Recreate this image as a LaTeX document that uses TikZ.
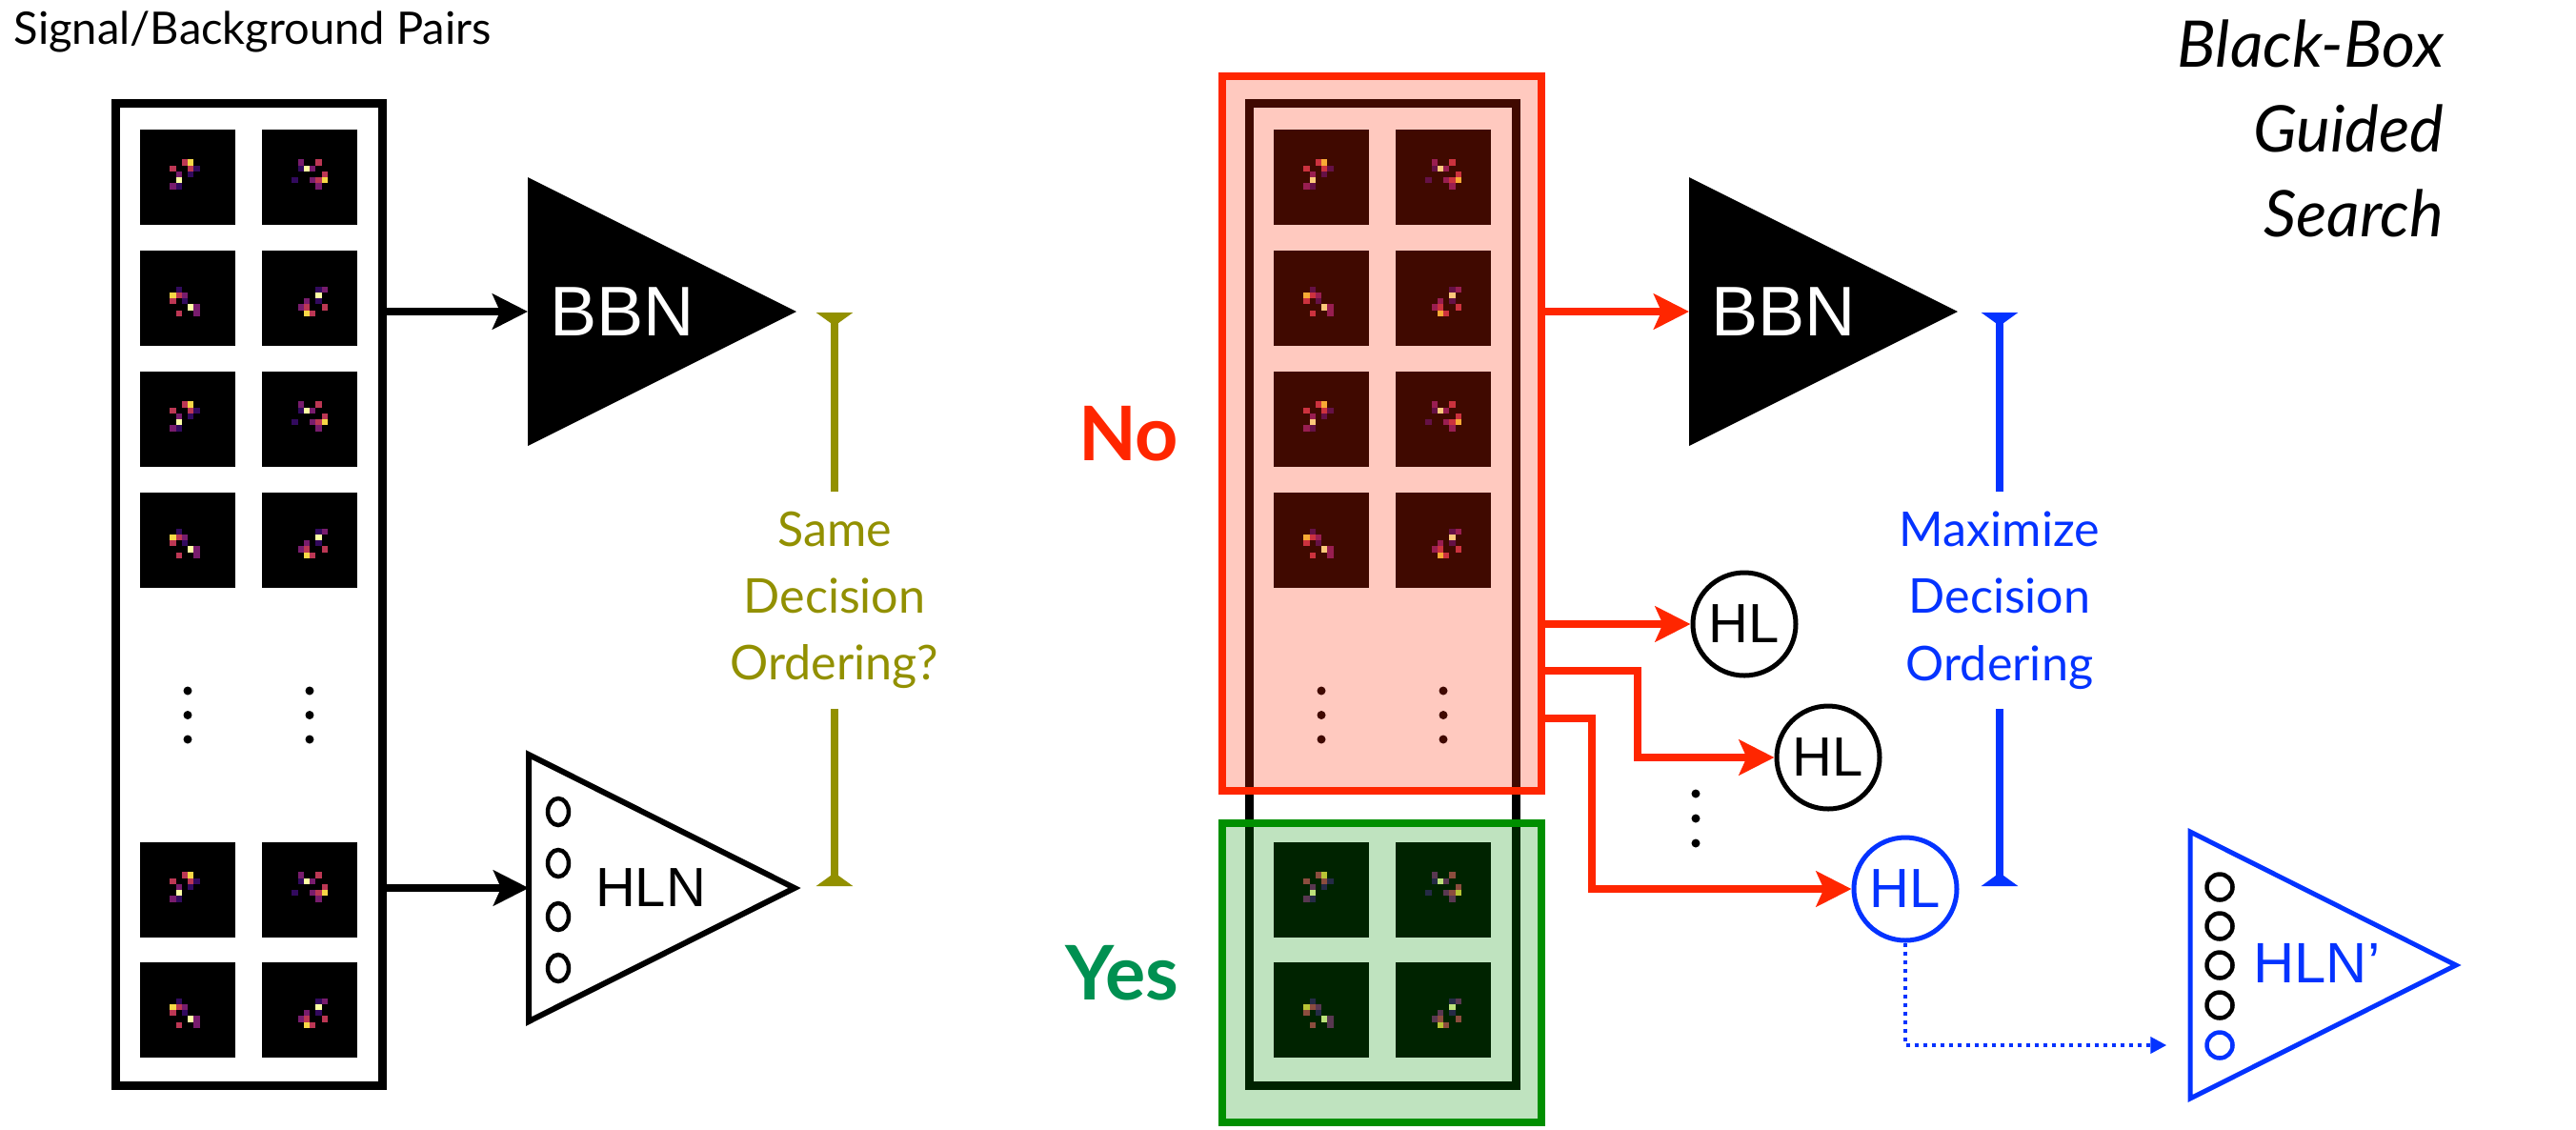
\documentclass[tikz,border=0pt]{standalone}
\usepackage{fontspec}
\setmainfont{Lato}
\newfontfamily\netfont{Liberation Sans}
\usepackage{tikz}
\usetikzlibrary{arrows.meta,positioning}

\definecolor{nored}{HTML}{FF2600}
\definecolor{yesgreen}{HTML}{009051}
\definecolor{boxgreen}{HTML}{008F00}
\definecolor{oliveline}{HTML}{929000}
\definecolor{guideblue}{HTML}{0433FF}
% inferno-like pixel colours
\definecolor{jw}{HTML}{FCFFA4}
\definecolor{jy}{HTML}{F6D746}
\definecolor{jp}{HTML}{BC3754}
\definecolor{jv}{HTML}{781C6D}
\definecolor{jd}{HTML}{320A5E}

\tikzset{
  pairbox/.style={draw, line width=0.09cm, minimum width=2.8cm, minimum height=10.31cm, inner sep=0pt},
  flow/.style={line width=0.08cm, -{Stealth[length=0.37cm, width=0.37cm, inset=0.08cm]}},
  redflow/.style={flow, draw=nored},
  hl/.style={circle, draw, line width=0.05cm, minimum size=1.08cm, inner sep=0pt, font=\netfont\fontsize{16.5}{18}\selectfont},
  neuron/.style={line width=0.045cm},
  cue/.style={align=center, inner xsep=0pt, inner ysep=0.2cm, font=\fontsize{14.3}{20}\selectfont},
  cuebar/.style={line width=0.08cm},
  teetop/.style={cuebar, {Triangle[reversed, width=0.38cm, length=0.14cm]}-},
  teebot/.style={cuebar, -{Triangle[reversed, width=0.38cm, length=0.14cm]}},
  answer/.style={inner sep=0pt, font=\bfseries\fontsize{22.5}{26}\selectfont},
  netname/.style={inner sep=0pt, font=\netfont\fontsize{21}{24}\selectfont}
}

% pixel lists (column/row on a 16x16 grid, colour)
\newcommand\pixA{8/5/jy,7/5/jp,8/6/jp,5/6/jp,6/7/jv,6/8/jw,9/6/jd,5/9/jv,6/9/jd,8/7/jd}
\newcommand\pixB{7/6/jw,6/5/jv,9/5/jp,8/6/jv,6/6/jd,10/7/jp,10/8/jy,9/8/jp,8/8/jv,9/9/jv,5/8/jd}
\newcommand\pixC{5/7/jy,6/7/jp,5/8/jp,6/6/jd,7/7/jv,8/9/jw,9/9/jv,7/8/jd,6/10/jp,9/10/jv}
\newcommand\pixD{9/7/jw,10/6/jv,9/6/jd,7/8/jv,9/8/jd,10/9/jp,7/10/jy,8/10/jp,7/9/jp,6/9/jv}

% one jet image, top left corner at (#1,#2)
\newcommand\jetimg[3]{%
  \fill[black] (#1,#2) rectangle ++(1,-1);
  \edef\pixlist{\csname pix#3\endcsname}%
  \foreach \i/\j/\c in \pixlist
    \fill[\c] ({#1+\i/16},{#2-\j/16}) rectangle ++(0.0625,-0.0625);
}

\begin{document}
\begin{tikzpicture}
\useasboundingbox (0,0) rectangle (27.04,-11.85);

% titles
\node[anchor=base west, inner sep=0pt, font=\fontsize{13.4}{16}\selectfont] (pairtitle) at (0.14,-0.46) {Signal/Background Pairs};
\node[anchor=north east, align=right, inner sep=0pt, font=\itshape\fontsize{19.2}{25.3}\selectfont] (searchtitle) at (25.66,-0.20) {Black-Box\\Guided\\Search};

% the pair column and its copy
\node[pairbox] (pairs) at (2.61,-6.235) {};
\node[pairbox] (pairs2) at (14.51,-6.235) {};
\foreach \y/\pl/\pr in {-1.36/A/B,-2.63/C/D,-3.90/A/B,-5.17/C/D,-8.84/A/B,-10.10/C/D}
  \foreach \dx in {0,11.9} {
    \jetimg{1.47+\dx}{\y}{\pl}
    \jetimg{2.75+\dx}{\y}{\pr}
  }
\foreach \dx in {0,11.9}
  \foreach \cx in {1.97,3.25}
    \foreach \cy in {-7.25,-7.505,-7.76}
      \fill (\cx+\dx,\cy) circle (0.045);

% no / yes split of the copy
\node[draw=nored, fill=nored, fill opacity=0.25, line width=0.08cm, minimum width=3.35cm, minimum height=7.5cm, inner sep=0pt] (nobox) at (14.505,-4.55) {};
\node[draw=boxgreen, fill=boxgreen, fill opacity=0.25, line width=0.08cm, minimum width=3.35cm, minimum height=3.14cm, inner sep=0pt] (yesbox) at (14.505,-10.21) {};
\node[answer, text=nored, left=0.41cm of nobox] (no) {No};
\node[answer, text=yesgreen, left=0.41cm of yesbox] (yes) {Yes};

% networks
\coordinate (bbn1) at (5.54,-3.27);
\coordinate (hln1) at (5.55,-9.32);
\coordinate (bbn2) at (17.73,-3.27);
\coordinate (hlnp) at (22.99,-10.13);

\fill (bbn1) -- ++(0,1.41) -- ++(2.82,-1.41) -- ++(-2.82,-1.41) -- cycle;
\node[netname, text=white] (bbn1name) at (6.53,-3.27) {BBN};
\draw[line width=0.06cm] (hln1) -- ++(0,1.40) -- ++(2.79,-1.40) -- ++(-2.79,-1.40) -- cycle;
\foreach \cy in {-8.52,-9.06,-9.62,-10.16}
  \draw[neuron] (5.86,\cy) ellipse (0.11 and 0.14);
\node[netname, font=\netfont\fontsize{16.5}{18}\selectfont] (hln1name) at (6.83,-9.32) {HLN};

\fill (bbn2) -- ++(0,1.41) -- ++(2.82,-1.41) -- ++(-2.82,-1.41) -- cycle;
\node[netname, text=white] (bbn2name) at (18.72,-3.27) {BBN};

\draw[flow] (pairs.east |- bbn1) -- (bbn1);
\draw[flow] (pairs.east |- hln1) -- (hln1);

% same decision ordering?
\coordinate (sametop) at (8.76,-3.28);
\coordinate (samebot) at (8.76,-9.30);
\node[cue, text=oliveline] (same) at (8.76,-6.30) {Same\\Decision\\Ordering?};
\draw[teetop, oliveline] (sametop) -- (same);
\draw[teebot, oliveline] (same) -- (samebot);

% hidden layer probes
\node[hl] (hl1) at (18.31,-6.55) {HL};
\node[hl] (hl2) at (19.19,-7.95) {HL};
\node[hl, draw=guideblue, text=guideblue] (hl3) at (20.00,-9.33) {HL};
\foreach \cy in {-8.33,-8.59,-8.85}
  \fill (17.80,\cy) circle (0.045);

\draw[redflow] (nobox.east |- bbn2) -- (bbn2);
\draw[redflow] (nobox.east |- hl1) -- (hl1);
\draw[redflow] ([yshift=-2.49cm]nobox.east) -| ([xshift=-2cm]hl2.center) -- (hl2);
\draw[redflow] ([yshift=-2.99cm]nobox.east) -| ([xshift=-3.29cm]hl3.center) -- (hl3);

% maximize decision ordering
\coordinate (maxtop) at (20.99,-3.28);
\coordinate (maxbot) at (20.99,-9.30);
\node[cue, text=guideblue] (maximize) at (20.99,-6.30) {Maximize\\Decision\\Ordering};
\draw[teetop, guideblue] (maxtop) -- (maximize);
\draw[teebot, guideblue] (maximize) -- (maxbot);

% network with the new unit
\draw[guideblue, line width=0.05cm] (hlnp) -- ++(0,1.40) -- ++(2.79,-1.40) -- ++(-2.79,-1.40) -- cycle;
\foreach \cy in {-9.31,-9.72,-10.13,-10.55}
  \draw[neuron] (23.30,\cy) circle (0.135);
\node[circle, draw=guideblue, neuron, minimum size=0.27cm, inner sep=0pt] (newunit) at (23.30,-10.97) {};
\node[netname, text=guideblue, font=\netfont\fontsize{17}{20}\selectfont] (hlnpname) at (24.32,-10.11) {HLN’};
\draw[guideblue, line width=0.04cm, dash pattern=on 0.04cm off 0.05cm, -{Triangle[length=0.17cm, width=0.17cm]}, shorten >=0.4cm] (hl3) |- (newunit);

\end{tikzpicture}
\end{document}
